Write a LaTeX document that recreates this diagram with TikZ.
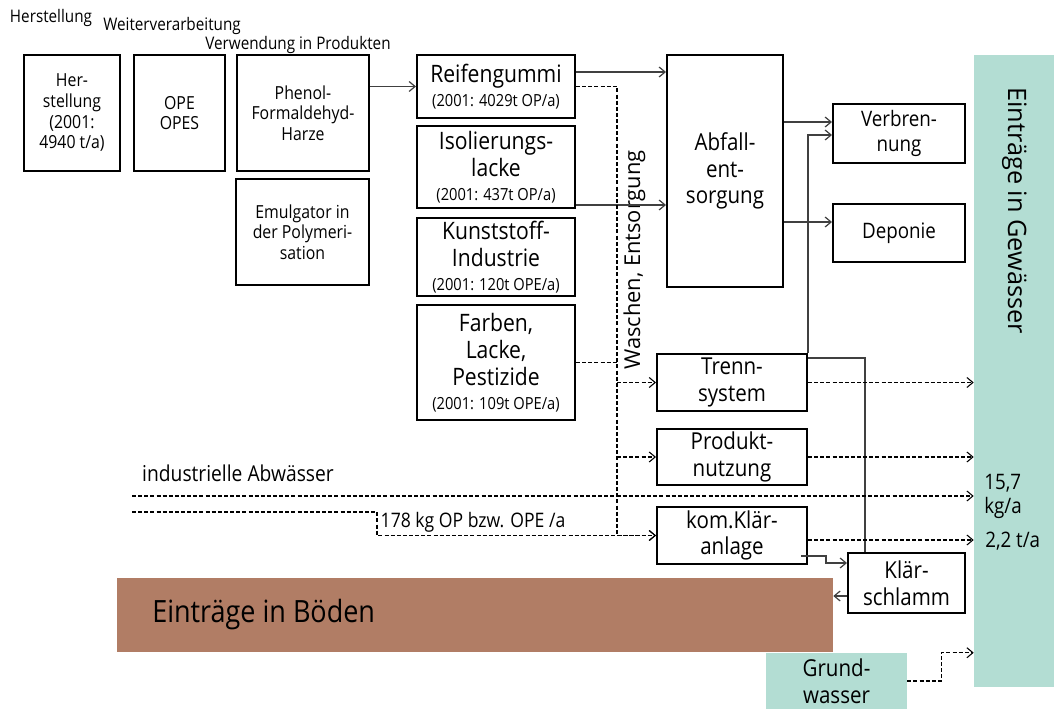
\documentclass[tikz,border=0pt]{standalone}
\usepackage{fontspec}
\setmainfont{Open Sans}[FakeStretch=0.88]
\newfontfamily\upfont{Open Sans}
\usetikzlibrary{calc,arrows.meta}

\definecolor{bodenbraun}{RGB}{177,125,101}
\definecolor{wassergruen}{RGB}{179,221,211}
\newcommand{\fsz}[2]{\fontsize{#1}{#2}\selectfont}
\newcommand{\jahr}[1]{{\fsz{12.5}{14}#1}}

\begin{document}
\begin{tikzpicture}[x=.75pt,y=-.75pt,
    >={Straight Barb[length=4.5pt,width=7.5pt]},
    box/.style={draw, line width=1.5pt, inner sep=0pt, align=center},
    prodbox/.style={box, minimum width=118.5pt, font=\fsz{18}{20.5}},
    flussbox/.style={box, minimum width=112.5pt, font=\fsz{17.5}{20}},
    flaeche/.style={inner sep=0pt, align=center},
    fl/.style={line width=.9pt, black!75},
    dsh/.style={line width=.8pt, dash pattern=on 3pt off 1.6pt}]

      \useasboundingbox (0,0) rectangle (1054,709);

      % senken
      \node[flaeche, fill=bodenbraun, minimum width=537pt, minimum height=55.5pt] (boden) at (475,615) {};
      \node[flaeche, fill=wassergruen, minimum width=60pt, minimum height=474pt] (gew) at (1014,371) {};
      \node[flaeche, fill=wassergruen, minimum width=105.75pt, minimum height=42pt, font=\fsz{17.5}{20}] (grund) at (836.5,681) {Grund-\\wasser};
      \node[anchor=west, inner sep=0pt, font=\fsz{23}{26}] (bodentxt) at (152,615) {Einträge in Böden};
      \node[anchor=base west, rotate=-90, inner sep=0pt, font=\upfont\fsz{19}{22}] (gewtxt) at (1008,87) {Einträge in Gewässer};

      % stufen
      \node[font=\fsz{13}{15}] (l1) at (51,18) {Herstellung};
      \node[font=\fsz{13}{15}] (l2) at (172,26) {Weiterverarbeitung};
      \node[font=\fsz{13}{15}] (l3) at (298,45) {Verwendung in Produkten};

      % herstellung, verarbeitung
      \node[box, minimum width=72pt, minimum height=87pt, font=\fsz{13.5}{15.5}] (hers) at (72,113) {Her-\\stellung\\(2001:\\4940 t/a)};
      \node[box, minimum width=68.25pt, minimum height=87pt, font=\fsz{13.5}{15.5}] (ope) at (179.5,113) {OPE\\OPES};
      \node[box, minimum width=99pt, minimum height=87pt, font=\fsz{13.5}{15.5}] (phen) at (303,113) {Phenol-\\Formaldehyd-\\Harze};
      \node[box, minimum width=99.75pt, minimum height=79.5pt, font=\fsz{13.5}{15.5}] (emul) at (302.5,232) {Emulgator in\\der Polymeri-\\sation};

      % produkte
      \node[prodbox, minimum height=47.25pt] (reif) at (496,86.5) {Reifengummi\\[-3pt]\jahr{(2001: 4029t OP/a)}};
      \node[prodbox, minimum height=61.5pt] (isol) at (496,167) {Isolierungs-\\lacke\\[-3pt]\jahr{(2001: 437t OP/a)}};
      \node[prodbox, minimum height=58.5pt] (kunst) at (496,257) {Kunststoff-\\Industrie\\[-3pt]\jahr{(2001: 120t OPE/a)}};
      \node[prodbox, minimum height=86.25pt] (farb) at (496,362.5) {Farben,\\Lacke,\\Pestizide\\[-3pt]\jahr{(2001: 109t OPE/a)}};

      % entsorgung
      \node[box, minimum width=87pt, minimum height=174pt, font=\fsz{17.5}{20}] (abf) at (725,171) {Abfall-\\ent-\\sorgung};
      \node[box, minimum width=99pt, minimum height=44.25pt, font=\fsz{16}{18.5}] (verb) at (899,133.5) {Verbren-\\nung};
      \node[box, minimum width=99pt, minimum height=43.5pt, font=\fsz{16}{18.5}] (dep) at (899,233) {Deponie};
      \node[flussbox, minimum height=42.75pt] (trenn) at (732,382.5) {Trenn-\\system};
      \node[flussbox, minimum height=42pt] (prod) at (732,457) {Produkt-\\nutzung};
      \node[flussbox, minimum height=42.75pt] (klaer) at (732,535.5) {kom.Klär-\\anlage};
      \node[box, minimum width=87.75pt, minimum height=45pt, font=\fsz{17.5}{20}] (schl) at (906.5,583) {Klär-\\schlamm};

      % texte an den linien
      \node[anchor=base, rotate=90, font=\upfont\fsz{16.4}{19}] (waschtxt) at (640,260) {Waschen, Entsorgung};
      \node[font=\fsz{16.4}{19}] (indtxt) at (238,473) {industrielle Abwässer};
      \node[font=\fsz{15}{17}] (komtxt) at (473,522) {178 kg OP bzw. OPE /a};
      \node[anchor=west, inner sep=0pt, align=left, font=\fsz{16}{18}] (gewkg) at (984,496) {15,7\\kg/a};
      \node[anchor=west, inner sep=0pt, font=\fsz{16}{18}] (gewt) at (985,541) {2,2 t/a};

      % hilfspunkte
      \path (617,536) coordinate (wasch);
      \path (132,496) coordinate (indstart);
      \path (132,512) coordinate (komstart);
      \path (377,512) coordinate (komknick);
      \path ($(reif.east)+(0,-14.5)$) coordinate (reifab);
      \path ($(isol.east)+(0,38)$) coordinate (isolab);
      \path ($(verb.west)+(0,-11.5)$) coordinate (verbin);
      \path ($(verb.west)+(0,1.5)$) coordinate (verbtr);
      \path ($(dep.west)+(0,-11)$) coordinate (depin);
      \path ($(klaer.east)+(0,4.5)$) coordinate (klaergew);
      \path ($(klaer.south east)+(-7,-9)$) coordinate (klaerout);
      \path ($(schl.west)+(0,13)$) coordinate (schlout);

      % feste fluesse
      \draw[fl,->] (phen.east |- reif.west) to (reif.west);
      \draw[fl,->] (reifab) to (reifab -| abf.west);
      \draw[fl,->] (isolab) to (isolab -| abf.west);
      \draw[fl,->] (verbin -| abf.east) to (verbin);
      \draw[fl,->] (depin -| abf.east) to (depin);
      \draw[fl,->] (trenn.north east) |- (verbtr);
      \draw[fl] ($(trenn.north east)+(0,5)$) -| ($(schl.north west)+(18,0)$);
      \draw[fl,->] (klaerout) -- ++(25,0) |- ($(schl.west)+(0,-20)$);
      \draw[fl,->] (schlout) to (schlout -| boden.east);

      % waessrige fluesse
      \draw[dsh] (reif.east) -- (reif.east -| wasch) -- (wasch);
      \draw[dsh] (farb.east) to (farb.east -| wasch);
      \foreach \n in {trenn,prod,klaer} {
        \draw[dsh,->] (\n.west -| wasch) to (\n.west);
      }
      \foreach \n in {trenn,prod} {
        \draw[dsh,->] (\n.east) to (\n.east -| gew.west);
      }
      \draw[dsh,->] (klaergew) to (klaergew -| gew.west);
      \draw[dsh,->] (indstart) to (indstart -| gew.west);
      \draw[dsh,->] (komstart) -- (komknick) |- (klaer.west);
      \draw[dsh,->] (grund.east) -- ++(34,0) |- (grund.north -| gew.west);

    \end{tikzpicture}
\end{document}
